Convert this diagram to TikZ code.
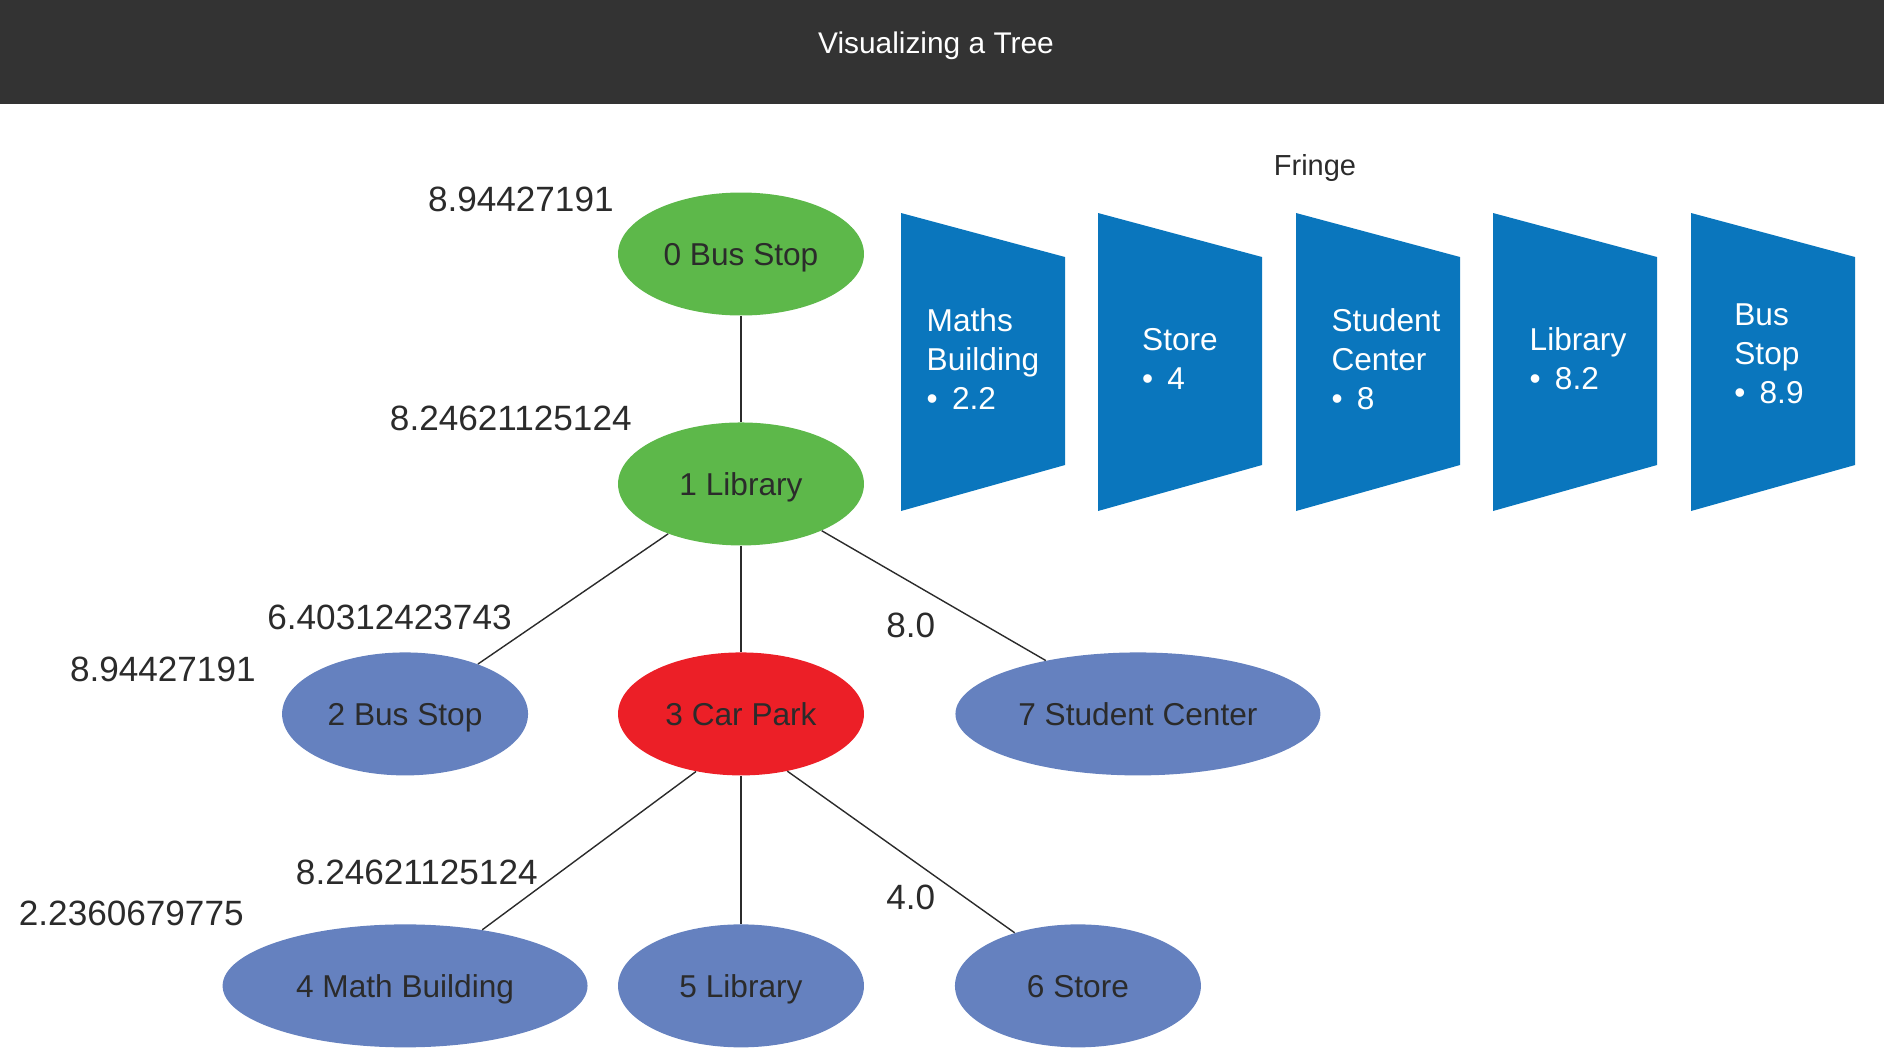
\documentclass[tikz,border=0pt]{standalone}
\usepackage{fontspec}
\setmainfont{Liberation Sans}
\usepackage{tikz}
\usetikzlibrary{shapes, positioning}

\definecolor{barGray}{HTML}{333333}
\definecolor{textDark}{HTML}{2B2B2B}
\definecolor{visitGreen}{HTML}{5DB84A}
\definecolor{currentRed}{HTML}{EC1F27}
\definecolor{openBlue}{HTML}{6581BF}
\definecolor{fringeBlue}{HTML}{0A76BD}

\begin{document}
\begin{tikzpicture}[x=0.02cm,y=-0.02cm,node distance=4.6cm,
	every edge/.append style={draw=textDark,line width=0.8pt},
	place/.style={ellipse,minimum width=4.92cm,minimum height=2.46cm,inner sep=0pt,
		text height=12.9pt,text depth=0pt,text=textDark,font=\fontsize{18}{22}\selectfont},
	wideplace/.style={place,minimum width=7.3cm},
	cost/.style={inner sep=0pt,text=textDark,font=\fontsize{20}{24}\selectfont},
	fringebox/.style={fill=fringeBlue},
	entry/.style={inner sep=0pt,align=left,text=white,font=\fontsize{18}{22.2}\selectfont}]
	\useasboundingbox (0,0) rectangle (1884,1063);
	
	% title bar
	\fill[barGray] (0,0) rectangle (1884,104);
	\node[anchor=base,text=white,font=\fontsize{17}{20}\selectfont] (title) at (936,53) {Visualizing a Tree};
	
	% tree
	\node[place,fill=visitGreen] (n0) at (741,254) {0 Bus Stop};
	\node[place,fill=visitGreen] (n1) [below of=n0] {1 Library};
	\node[place,fill=currentRed] (n3) [below of=n1] {3 Car Park};
	\node[place,fill=openBlue] (n2) [left of=n3,node distance=6.72cm] {2 Bus Stop};
	\node[wideplace,fill=openBlue] (n7) [right of=n3,node distance=7.94cm] {7 Student Center};
	\node[place,fill=openBlue] (n5) [below of=n3,node distance=5.44cm] {5 Library};
	\node[wideplace,fill=openBlue] (n4) [left of=n5,node distance=6.72cm] {4 Math Building};
	\node[place,fill=openBlue] (n6) [right of=n5,node distance=6.74cm] {6 Store};
	
	\path (n0) edge (n1);
	\path (n1) edge (n2)
	edge (n3)
	edge (n7);
	\path (n3.232) edge (n4.36);
	\path (n3) edge (n5);
	\path (n3.309) edge (n6.140);
	
	% costs
	\node[cost,anchor=base east] (c0) at (614,211) {8.94427191};
	\node[cost,anchor=base east] (c1) at (632,430) {8.24621125124};
	\node[cost,anchor=base east] (c2a) at (512,629) {6.40312423743};
	\node[cost,anchor=base east] (c2b) at (256,681) {8.94427191};
	\node[cost,anchor=base west] (c7) at (886,637) {8.0};
	\node[cost,anchor=base east] (c4a) at (538,884) {8.24621125124};
	\node[cost,anchor=base east] (c4b) at (244,925) {2.2360679775};
	\node[cost,anchor=base west] (c6) at (886,909) {4.0};
	
	% fringe
	\node[anchor=base,text=textDark,font=\fontsize{16.5}{20}\selectfont] (fringe) at (1315,175) {Fringe};
	
	\fill[fringebox] (901,213) -- (1065,257) -- (1065,465) -- (901,511) -- cycle;
	\fill[fringebox] (1098,213) -- (1262,257) -- (1262,465) -- (1098,511) -- cycle;
	\fill[fringebox] (1296,213) -- (1460,257) -- (1460,465) -- (1296,511) -- cycle;
	\fill[fringebox] (1493,213) -- (1657,257) -- (1657,465) -- (1493,511) -- cycle;
	\fill[fringebox] (1691,213) -- (1855,257) -- (1855,465) -- (1691,511) -- cycle;
	
	\node[entry] (f1) at (983,359) {Maths\\Building\\\textbullet\hspace{0.45em}2.2};
	\node[entry] (f2) at (1180,359) {Store\\\textbullet\hspace{0.45em}4};
	\node[entry] (f3) at (1386,359) {Student\\Center\\\textbullet\hspace{0.45em}8};
	\node[entry] (f4) at (1578,359) {Library\\\textbullet\hspace{0.45em}8.2};
	\node[entry] (f5) at (1769,354) {Bus\\Stop\\\textbullet\hspace{0.45em}8.9};
\end{tikzpicture}
\end{document}
